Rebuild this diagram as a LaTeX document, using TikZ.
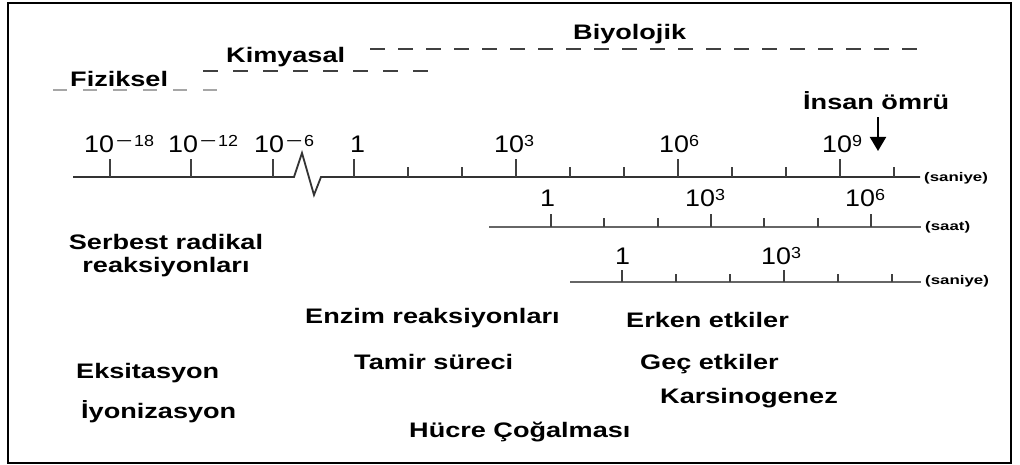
\documentclass[tikz,border=0pt]{standalone}
\usepackage{fontspec}
\setmainfont{Liberation Sans}
\usetikzlibrary{arrows.meta}
\newcommand\hs[1]{\scalebox{1.29}[1]{#1}}
\newcommand\hu[1]{\scalebox{1.35}[1]{#1}}
\newcommand\tenp[1]{\scalebox{1.12}[1]{\fontsize{24}{24}\selectfont 10\raisebox{6pt}{\fontsize{16}{16}\selectfont #1}}}
\newcommand\onelbl{\scalebox{1.12}[1]{\fontsize{24}{24}\selectfont 1}}
\newcommand\mns{\kern1.5pt\scalebox{1.6}[1]{−}\kern1.5pt}
\begin{document}
\begin{tikzpicture}[x=1pt,y=-1pt,
  lbl/.style={anchor=base west,inner sep=0pt,font=\bfseries\fontsize{21}{23}\selectfont},
  num/.style={anchor=base west,inner sep=0pt},
  unitlbl/.style={anchor=west,inner sep=0pt,font=\bfseries\fontsize{12.5}{12.5}\selectfont},
  mainax/.style={line width=1.8pt,draw=black!80},
  subax/.style={line width=1.5pt,draw=black!60},
  majtick/.style={line width=1.5pt,draw=black!75},
  mintick/.style={line width=1.3pt,draw=black!75},
  fizdash/.style={line width=1.5pt,draw=black!35,dash pattern=on 14pt off 16pt},
  kimdash/.style={line width=1.5pt,draw=black!75,dash pattern=on 15pt off 15pt},
  biydash/.style={line width=1.5pt,draw=black!75,dash pattern=on 15pt off 13pt}]
\useasboundingbox (0,0) rectangle (1020,465);
% frame
\draw[line width=2.5pt] (8,3) rectangle (1011,463);

% bands
\draw[fizdash] (53,90) -- (218,90);
\draw[kimdash] (203,71) -- (428,71);
\draw[biydash] (370,49) -- (918,49);
\node[lbl] (fiz) at (70,87) {\hs{Fiziksel}};
\node[lbl] (kim) at (226,63) {\hs{Kimyasal}};
\node[lbl] (biy) at (573,40) {\hs{Biyolojik}};

% main axis
\draw[mainax] (73,177) -- (294,177) -- (302,153) -- (314,195) -- (321,177) -- (920,177);
\foreach \x in {110,191,273,354,516,678,840} \draw[majtick] (\x,177) -- (\x,159);
\foreach \x in {408,462,570,624,732,786,894} \draw[mintick] (\x,177) -- (\x,167);
\node[num] (m1) at (84,153) {\tenp{\mns 18}};
\node[num] (m2) at (168,153) {\tenp{\mns 12}};
\node[num] (m3) at (254,153) {\tenp{\mns 6}};
\node[num] (m4) at (350,153) {\onelbl};
\node[num] (m5) at (494,153) {\tenp{3}};
\node[num] (m6) at (659,153) {\tenp{6}};
\node[num] (m7) at (822,153) {\tenp{9}};
\node[unitlbl] (u1) at (924,178) {\hu{(saniye)}};

% lifetime arrow
\node[lbl] (insan) at (803,110) {\hs{İnsan ömrü}};
\coordinate (lifetip) at (878,151);
\draw[line width=2pt,-{Triangle[width=16pt,length=14pt]}] (lifetip |- insan.south) ++(0,7) -- (lifetip);

% saat axis
\draw[subax] (489,227) -- (921,227);
\foreach \x in {551,711,871} \draw[majtick] (\x,227) -- (\x,214);
\foreach \x in {604,658,764,818} \draw[mintick] (\x,227) -- (\x,218);
\node[num] (s1) at (540,207) {\onelbl};
\node[num] (s2) at (685,207) {\tenp{3}};
\node[num] (s3) at (845,207) {\tenp{6}};
\node[unitlbl] (u2) at (925,227) {\hu{(saat)}};

% lower saniye axis
\draw[subax] (570,282) -- (921,282);
\foreach \x in {622,784} \draw[majtick] (\x,282) -- (\x,270);
\foreach \x in {676,730,838,892} \draw[mintick] (\x,282) -- (\x,274);
\node[num] (l1) at (615,265) {\onelbl};
\node[num] (l2) at (761,265) {\tenp{3}};
\node[unitlbl] (u3) at (925,281) {\hu{(saniye)}};

% process labels
\node[lbl,anchor=base] (serb) at (166,250) {\hs{\begin{tabular}[t]{@{}c@{}}Serbest radikal\\reaksiyonları\end{tabular}}};
\node[lbl] (eks) at (76,378) {\hs{Eksitasyon}};
\node[lbl] (iyo) at (81,418) {\hs{İyonizasyon}};
\node[lbl] (enz) at (305,323) {\hs{Enzim reaksiyonları}};
\node[lbl] (tam) at (354,369) {\hs{Tamir süreci}};
\node[lbl] (huc) at (409,437) {\hs{Hücre Çoğalması}};
\node[lbl] (erk) at (626,327) {\hs{Erken etkiler}};
\node[lbl] (gec) at (640,369) {\hs{Geç etkiler}};
\node[lbl] (kar) at (660,403) {\hs{Karsinogenez}};
\end{tikzpicture}
\end{document}
